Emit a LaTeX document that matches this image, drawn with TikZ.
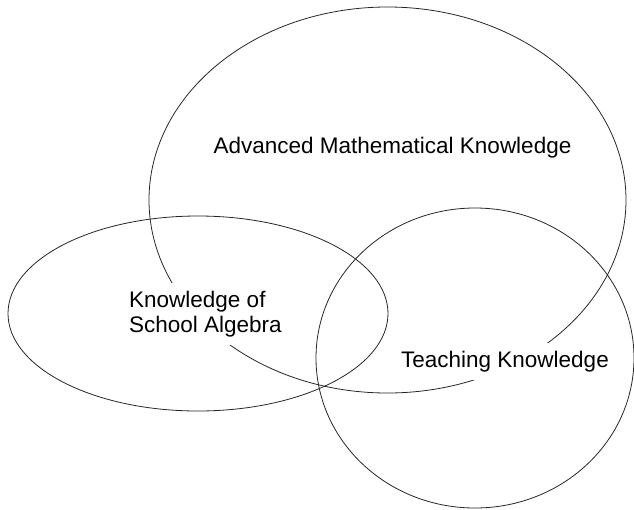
\documentclass[tikz,border=0pt]{standalone}
\usepackage{fontspec}
\setmainfont{Liberation Sans}
\usepackage{tikz}
\usetikzlibrary{positioning,calc}
\tikzset{
  ring/.style={draw=black!85, line width=0.8pt},
  setlabel/.style={fill=white, inner sep=8pt, font=\fontsize{22.5pt}{25pt}\selectfont}
}

\begin{document}
\begin{tikzpicture}[x=1pt, y=1pt]
  \useasboundingbox (0,0) rectangle (634,-509);
  % --- the three knowledge domains ---
  \draw[ring] (387.5,-200) ellipse [x radius=238.5pt, y radius=193pt];
  \draw[ring] (198,-313.5) ellipse [x radius=190pt, y radius=97.5pt];
  \draw[ring] (475,-358) ellipse [x radius=159pt, y radius=150pt];
  % labels (white boxes hide the lines behind them)
  \node[setlabel, anchor=base] (adv) at (392.5,-153) {Advanced Mathematical Knowledge};
  \node[setlabel, anchor=base west, align=left] (alg) at (121,-332) {Knowledge of\\School Algebra};
  \node[setlabel, anchor=base] (tch) at (505,-367) {Teaching Knowledge};
\end{tikzpicture}
\end{document}
